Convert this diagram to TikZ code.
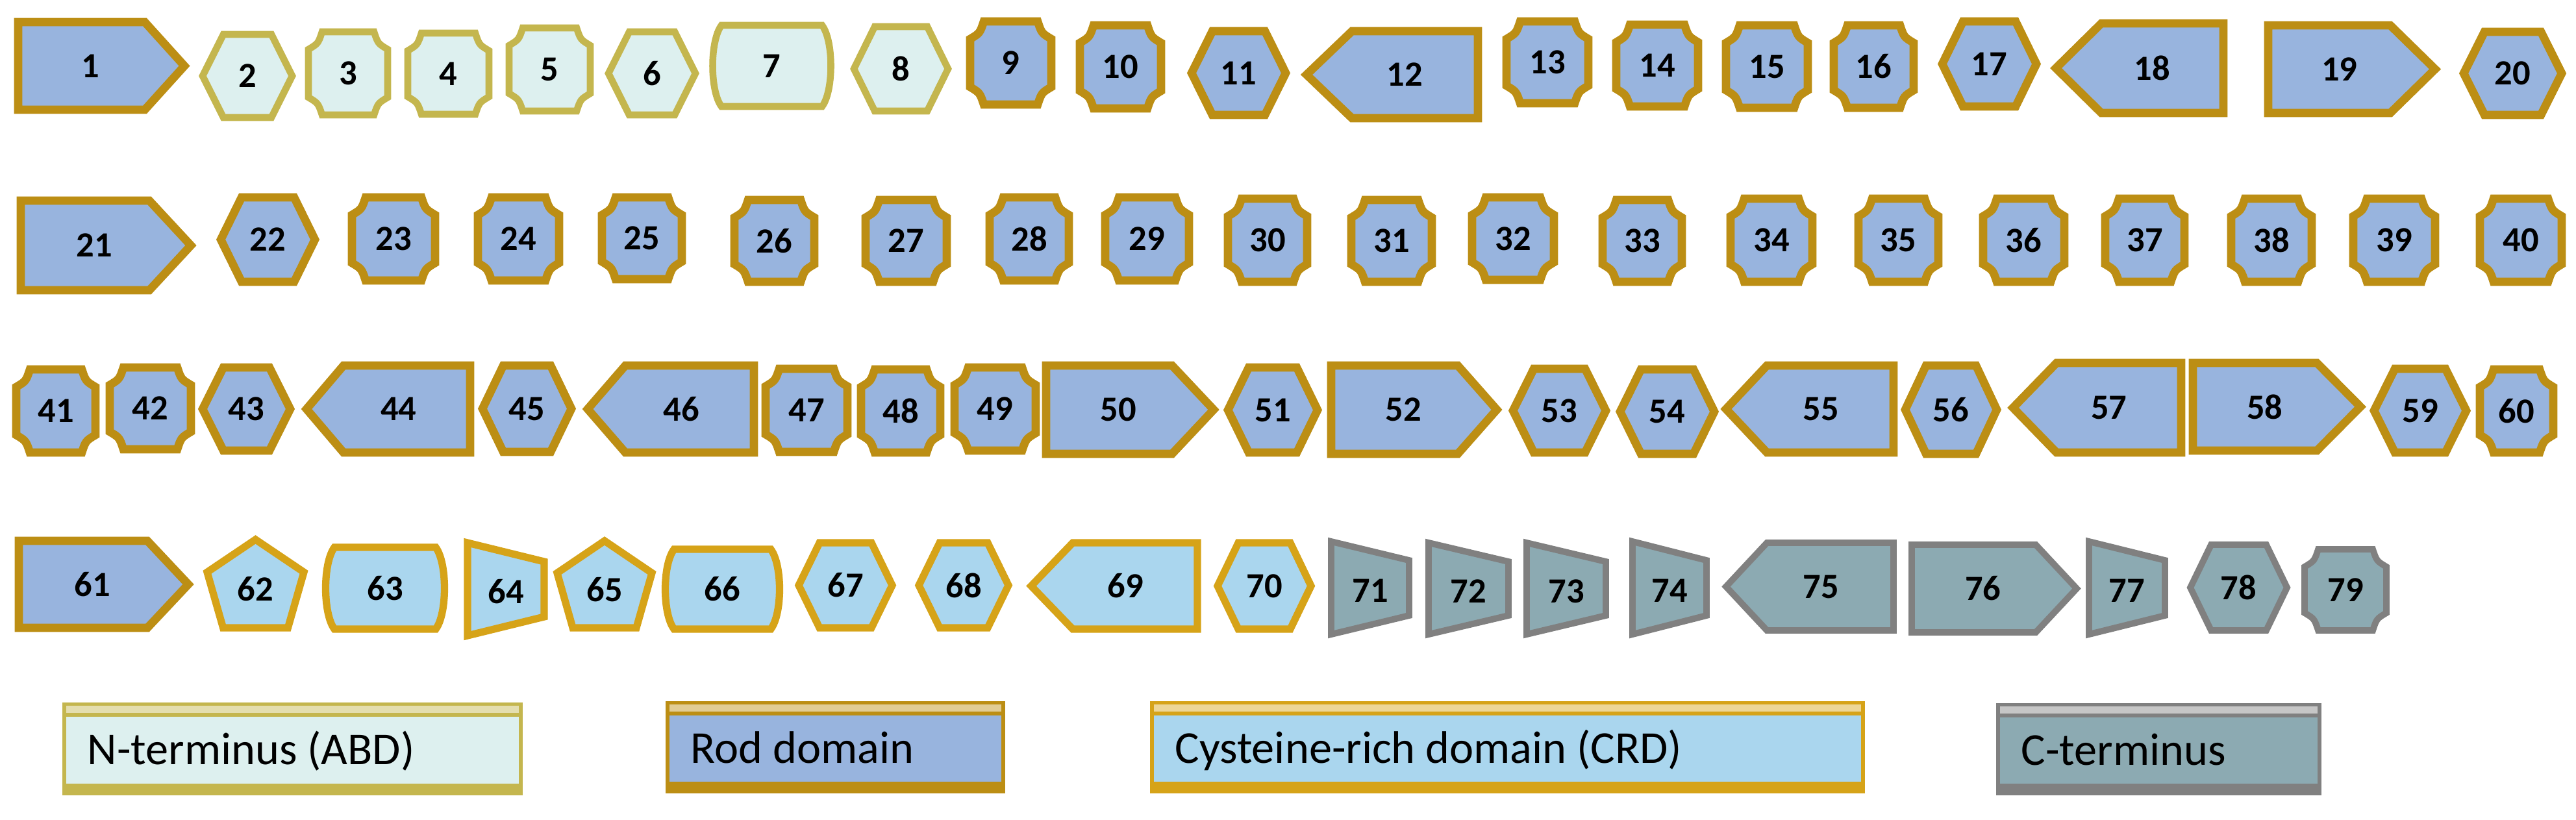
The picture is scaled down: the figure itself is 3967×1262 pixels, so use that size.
\documentclass[tikz,border=0pt]{standalone}
\usepackage{fontspec}
\setmainfont{Carlito}
\usepackage{tikz}
\usepackage{xcolor}
\usetikzlibrary{calc}

\definecolor{ntfill}{HTML}{DDF0EF}
\definecolor{ntline}{HTML}{C4B64E}
\definecolor{rdfill}{HTML}{98B4DE}
\definecolor{rdline}{HTML}{BC8E14}
\definecolor{crfill}{HTML}{AAD6EE}
\definecolor{crline}{HTML}{D6A318}
\definecolor{ctfill}{HTML}{8CAAB2}
\definecolor{ctline}{HTML}{808080}

\tikzset{nterm/.style={draw=ntline, fill=ntfill, line width=3pt}}
\tikzset{rod/.style={draw=rdline, fill=rdfill, line width=3.6pt}}
\tikzset{crd/.style={draw=crline, fill=crfill, line width=3.2pt}}
\tikzset{cterm/.style={draw=ctline, fill=ctfill, line width=2.8pt}}
\tikzset{num/.style={inner sep=0pt, font=\fontsize{15.5}{18}\selectfont\bfseries}}
\tikzset{lgtxt/.style={inner sep=0pt, anchor=base west, font=\fontsize{20}{24}\selectfont}}

% style, number, x1, body end, tip, y1, y2
\newcommand{\shR}[7]{%
  \draw[#1] ({#3+6},{#6+6}) -- (#4,{#6+6}) -- ({#5-6},{(#6+#7)/2}) -- (#4,{#7-6}) -- ({#3+6},{#7-6}) -- cycle;
  \node[num] (n#2) at ({(#3+#4)/2+(#5-#4)/4},{(#6+#7)/2}) {#2};}
% style, number, tip, body start, x2, y1, y2
\newcommand{\shL}[7]{%
  \draw[#1] ({#3+6},{(#6+#7)/2}) -- (#4,{#6+6}) -- ({#5-6},{#6+6}) -- ({#5-6},{#7-6}) -- (#4,{#7-6}) -- cycle;
  \node[num] (n#2) at ({(#4+#5)/2-(#4-#3)/4},{(#6+#7)/2}) {#2};}
% style, number, x1, x2, y1, y2
\newcommand{\shHex}[6]{%
  \draw[#1] ({#3+6},{(#5+#6)/2}) -- ({#3+38},{#5+6}) -- ({#4-38},{#5+6}) -- ({#4-6},{(#5+#6)/2}) -- ({#4-38},{#6-6}) -- ({#3+38},{#6-6}) -- cycle;
  \node[num] (n#2) at ({(#3+#4)/2},{(#5+#6)/2}) {#2};}
\newcommand{\shPlq}[6]{%
  \draw[#1] ({#3+27},{#5+6}) -- ({#4-27},{#5+6}) .. controls ({#4-21},{#5+24}) .. ({#4-6},{#5+33})
    -- ({#4-6},{#6-33}) .. controls ({#4-21},{#6-24}) .. ({#4-27},{#6-6})
    -- ({#3+27},{#6-6}) .. controls ({#3+21},{#6-24}) .. ({#3+6},{#6-33})
    -- ({#3+6},{#5+33}) .. controls ({#3+21},{#5+24}) .. ({#3+27},{#5+6}) -- cycle;
  \node[num] (n#2) at ({(#3+#4)/2},{(#5+#6)/2}) {#2};}
\newcommand{\shBar}[6]{%
  \draw[#1] ({#3+18},{#5+6}) -- ({#4-18},{#5+6}) .. controls ({#4},{#5+30}) and ({#4},{#6-30}) .. ({#4-18},{#6-6})
    -- ({#3+18},{#6-6}) .. controls ({#3},{#6-30}) and ({#3},{#5+30}) .. ({#3+18},{#5+6}) -- cycle;
  \node[num] (n#2) at ({(#3+#4)/2},{(#5+#6)/2}) {#2};}
\newcommand{\shTrp}[6]{%
  \draw[#1] ({#3+6},{#5+6}) -- ({#4-6},{#5+35}) -- ({#4-6},{#6-35}) -- ({#3+6},{#6-6}) -- cycle;
  \node[num] (n#2) at ({(#3+#4)/2},{(#5+#6)/2+4}) {#2};}
\newcommand{\shPen}[6]{%
  \draw[#1] ({(#3+#4)/2},{#5+6}) -- ({#4-6},{#5+0.38*(#6-#5)}) -- ({#4-0.19*(#4-#3)},{#6-6})
    -- ({#3+0.19*(#4-#3)},{#6-6}) -- ({#3+6},{#5+0.38*(#6-#5)}) -- cycle;
  \node[num] (n#2) at ({(#3+#4)/2},{(#5+#6)/2+8}) {#2};}
% line colour, fill colour, x1, x2, y1, y2, name, text
\newcommand{\lgbox}[8]{%
  \fill[#1] (#3,#5) rectangle (#4,#6);
  \fill[#1!45!white] ({#3+6},{#5+5}) rectangle ({#4-6},{#5+16});
  \fill[#2] ({#3+6},{#5+22}) rectangle ({#4-6},{#6-18});
  \node[lgtxt] (#7) at ({#3+38},{(#5+#6)/2+24}) {#8};}

\begin{document}
\begin{tikzpicture}[x=0.01cm, y=-0.01cm]
\useasboundingbox (0,0) rectangle (3967,1262);

% row 1
\shR{rod}{1}{22}{223}{290}{28}{175}
\shHex{nterm}{2}{306}{456}{47}{187}
\shPlq{nterm}{3}{469}{603}{43}{183}
\shPlq{nterm}{4}{622}{759}{45}{182}
\shPlq{nterm}{5}{778}{915}{37}{177}
\shHex{nterm}{6}{931}{1077}{43}{183}
\shBar{nterm}{7}{1093}{1284}{33}{170}
\shHex{nterm}{8}{1309}{1466}{35}{177}
\shPlq{rod}{9}{1488}{1625}{27}{167}
\shPlq{rod}{10}{1657}{1794}{33}{173}
\shHex{rod}{11}{1829}{1986}{42}{183}
\shL{rod}{12}{2006}{2082}{2282}{42}{188}
\shPlq{rod}{13}{2314}{2452}{27}{165}
\shPlq{rod}{14}{2483}{2621}{32}{170}
\shPlq{rod}{15}{2652}{2790}{33}{172}
\shPlq{rod}{16}{2818}{2953}{33}{172}
\shHex{rod}{17}{2985}{3142}{27}{170}
\shL{rod}{18}{3160}{3236}{3430}{30}{180}
\shR{rod}{19}{3487}{3681}{3756}{33}{180}
\shHex{rod}{20}{3788}{3951}{43}{183}

% row 2
\shR{rod}{21}{26}{230}{300}{303}{453}
\shHex{rod}{22}{334}{491}{298}{440}
\shPlq{rod}{23}{536}{676}{298}{438}
\shPlq{rod}{24}{730}{867}{298}{438}
\shPlq{rod}{25}{921}{1056}{298}{436}
\shPlq{rod}{26}{1125}{1260}{302}{440}
\shPlq{rod}{27}{1327}{1464}{302}{440}
\shPlq{rod}{28}{1518}{1652}{298}{438}
\shPlq{rod}{29}{1696}{1837}{298}{438}
\shPlq{rod}{30}{1885}{2019}{300}{440}
\shPlq{rod}{31}{2075}{2211}{302}{440}
\shPlq{rod}{32}{2261}{2399}{298}{437}
\shPlq{rod}{33}{2462}{2596}{302}{440}
\shPlq{rod}{34}{2659}{2797}{300}{440}
\shPlq{rod}{35}{2856}{2991}{300}{440}
\shPlq{rod}{36}{3048}{3185}{300}{440}
\shPlq{rod}{37}{3236}{3370}{300}{440}
\shPlq{rod}{38}{3430}{3566}{300}{440}
\shPlq{rod}{39}{3618}{3756}{300}{440}
\shPlq{rod}{40}{3813}{3951}{300}{440}

% row 3
\shPlq{rod}{41}{19}{153}{563}{703}
\shPlq{rod}{42}{163}{300}{560}{698}
\shHex{rod}{43}{306}{453}{560}{700}
\shL{rod}{44}{466}{529}{730}{557}{703}
\shHex{rod}{45}{737}{886}{557}{702}
\shL{rod}{46}{899}{963}{1167}{557}{703}
\shPlq{rod}{47}{1173}{1311}{562}{702}
\shPlq{rod}{48}{1320}{1454}{563}{703}
\shPlq{rod}{49}{1464}{1601}{560}{700}
\shR{rod}{50}{1605}{1805}{1875}{557}{705}
\shHex{rod}{51}{1885}{2035}{560}{703}
\shR{rod}{52}{2044}{2245}{2311}{557}{705}
\shHex{rod}{53}{2324}{2479}{562}{703}
\shHex{rod}{54}{2489}{2646}{563}{705}
\shL{rod}{55}{2652}{2721}{2922}{557}{703}
\shHex{rod}{56}{2928}{3081}{557}{705}
\shL{rod}{57}{3094}{3167}{3365}{553}{703}
\shR{rod}{58}{3371}{3568}{3641}{553}{700}
\shHex{rod}{59}{3650}{3804}{562}{703}
\shPlq{rod}{60}{3813}{3938}{563}{703}

% row 4
\shR{rod}{61}{23}{227}{296}{827}{973}
\shPen{crd}{62}{313}{474}{825}{973}
\shBar{crd}{63}{497}{689}{837}{975}
\shTrp{crd}{64}{714}{844}{830}{985}
\shPen{crd}{65}{852}{1010}{827}{973}
\shBar{crd}{66}{1020}{1205}{840}{975}
\shHex{crd}{67}{1224}{1380}{830}{973}
\shHex{crd}{68}{1409}{1559}{830}{973}
\shL{crd}{69}{1582}{1652}{1850}{830}{975}
\shHex{crd}{70}{1869}{2025}{830}{975}
\shTrp{cterm}{71}{2044}{2176}{828}{983}
\shTrp{cterm}{72}{2194}{2329}{830}{983}
\shTrp{cterm}{73}{2345}{2479}{830}{983}
\shTrp{cterm}{74}{2508}{2634}{828}{983}
\shL{cterm}{75}{2652}{2721}{2922}{830}{977}
\shR{cterm}{76}{2938}{3135}{3204}{833}{980}
\shTrp{cterm}{77}{3211}{3340}{828}{983}
\shHex{cterm}{78}{3367}{3528}{833}{977}
\shPlq{cterm}{79}{3543}{3681}{840}{977}

% legend
\lgbox{ntline}{ntfill}{96}{805}{1082}{1225}{lgnt}{N-terminus (ABD)}
\lgbox{rdline}{rdfill}{1025}{1548}{1080}{1222}{lgrd}{Rod domain}
\lgbox{crline}{crfill}{1771}{2872}{1080}{1222}{lgcr}{Cysteine-rich domain (CRD)}
\lgbox{ctline}{ctfill}{3074}{3575}{1083}{1225}{lgct}{C-terminus}
\end{tikzpicture}
\end{document}
